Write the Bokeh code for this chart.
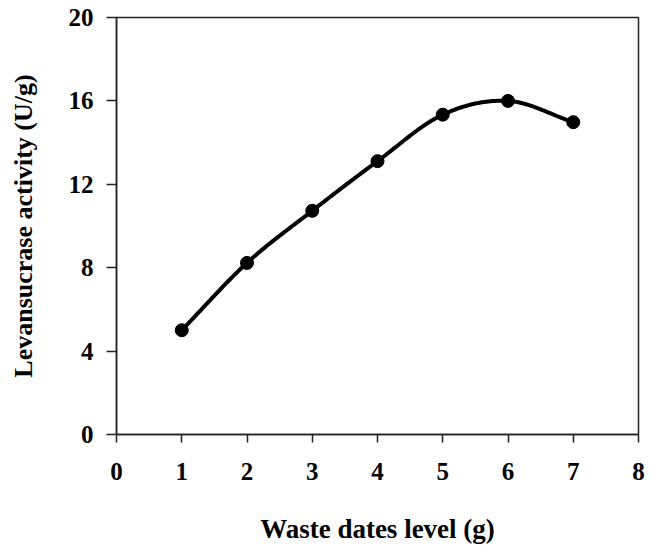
import numpy as np
from bokeh.plotting import figure
from bokeh.models import Range1d, FixedTicker
from bokeh.embed import file_html
from bokeh.resources import INLINE

# Levansucrase activity against waste dates level
waste_dates_g = [1, 2, 3, 4, 5, 6, 7]
activity_u_per_g = [5.0, 8.23, 10.73, 13.11, 15.34, 16.0, 14.98]

x_ticks = [0, 1, 2, 3, 4, 5, 6, 7, 8]
y_ticks = [0, 4, 8, 12, 16, 20]

FONT = "Liberation Serif"


def smooth_path(xs, ys, steps=30):
    """Catmull-Rom curve through the measured points (spreadsheet-style smoothing)."""
    xs = np.asarray(xs, float)
    ys = np.asarray(ys, float)
    px = np.concatenate([[2 * xs[0] - xs[1]], xs, [2 * xs[-1] - xs[-2]]])
    py = np.concatenate([[2 * ys[0] - ys[1]], ys, [2 * ys[-1] - ys[-2]]])
    out_x, out_y = [], []
    for i in range(1, len(px) - 2):
        t = np.linspace(0, 1, steps, endpoint=(i == len(px) - 3))
        t2, t3 = t * t, t * t * t
        for arr, out in ((px, out_x), (py, out_y)):
            p0, p1, p2, p3 = arr[i - 1], arr[i], arr[i + 1], arr[i + 2]
            out.extend(0.5 * ((2 * p1) + (-p0 + p2) * t
                              + (2 * p0 - 5 * p1 + 4 * p2 - p3) * t2
                              + (-p0 + 3 * p1 - 3 * p2 + p3) * t3))
    return out_x, out_y


p = figure(width=652, height=546, output_backend="svg", toolbar_location=None,
           x_range=Range1d(0, 8), y_range=Range1d(0, 20))
p.min_border_left = 116
p.min_border_top = 17
p.min_border_right = 14
p.min_border_bottom = 111
p.grid.visible = False
p.background_fill_color = "white"
p.border_fill_color = "white"
p.outline_line_color = "#222222"
p.outline_line_width = 1.5

cx, cy = smooth_path(waste_dates_g, activity_u_per_g)
p.line(cx, cy, line_color="black", line_width=4)
p.scatter(waste_dates_g, activity_u_per_g, size=13, marker="circle",
          fill_color="black", line_color="black")

p.xaxis.ticker = FixedTicker(ticks=x_ticks)
p.yaxis.ticker = FixedTicker(ticks=y_ticks)
for ax in (p.xaxis, p.yaxis):
    ax.minor_tick_line_color = None
    ax.major_tick_in = 0
    ax.axis_line_color = "#222222"
    ax.axis_line_width = 1.5
    ax.major_tick_line_color = "#222222"
    ax.major_tick_line_width = 1.5
    ax.major_label_text_font = FONT
    ax.major_label_text_font_style = "bold"
    ax.major_label_text_font_size = "25px"
    ax.major_label_text_color = "black"
    ax.axis_label_text_font = FONT
    ax.axis_label_text_font_style = "bold"
    ax.axis_label_text_color = "black"

p.xaxis.major_tick_out = 8
p.xaxis.major_label_standoff = 20
p.xaxis.axis_label = "Waste dates level (g)"
p.xaxis.axis_label_text_font_size = "27px"
p.xaxis.axis_label_standoff = 31

p.yaxis.major_tick_out = 10
p.yaxis.major_label_standoff = 13
p.yaxis.axis_label = "Levansucrase activity (U/g)"
p.yaxis.axis_label_text_font_size = "26px"
p.yaxis.axis_label_standoff = 28

open("out.html", "w").write(file_html(p, INLINE))
